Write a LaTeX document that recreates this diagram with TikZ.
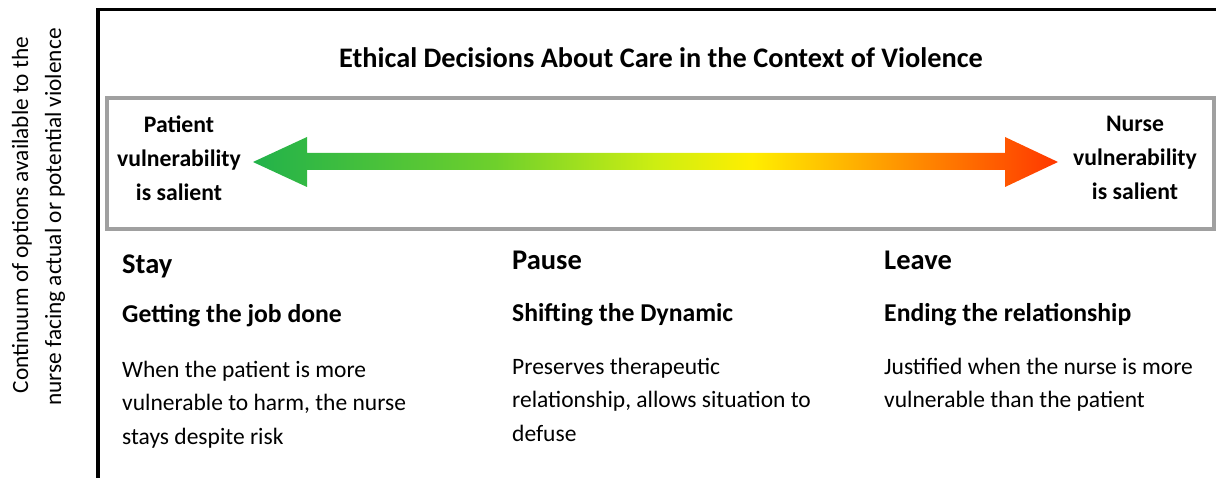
\documentclass[tikz,border=0pt]{standalone}
\usepackage{fontspec}
\setmainfont{Carlito}
\definecolor{framegray}{RGB}{160,160,160}
\definecolor{vgreen}{RGB}{34,178,74}
\definecolor{vlime}{RGB}{110,208,44}
\definecolor{vchart}{RGB}{205,238,18}
\definecolor{vyellow}{RGB}{255,238,0}
\definecolor{vorange}{RGB}{255,160,0}
\definecolor{vred}{RGB}{255,55,0}
\pgfdeclarehorizontalshading{vulnshade}{100bp}{%
  color(0bp)=(vgreen); color(25bp)=(vgreen); color(40bp)=(vlime);
  color(50bp)=(vchart); color(56bp)=(vyellow); color(64bp)=(vorange);
  color(75bp)=(vred); color(100bp)=(vred)}
\tikzset{
  sidelabel/.style={font=\fontsize{23.7}{34}\selectfont\bfseries, align=center, inner sep=0pt},
  title/.style={font=\fontsize{28.3}{33}\selectfont\bfseries, inner sep=0pt, anchor=base},
  colhead/.style={font=\fontsize{28.5}{33}\selectfont\bfseries, inner sep=0pt, anchor=base west},
  colsub/.style={font=\fontsize{25.7}{30}\selectfont\bfseries, inner sep=0pt, anchor=base west},
  % multi-line body: the base anchor sits on the last line
  colbody/.style={font=\fontsize{23.5}{33.5}\selectfont, align=left, inner sep=0pt, anchor=base west},
  sidetext/.style={font=\fontsize{23.3}{33}\selectfont, inner sep=0pt, rotate=90, anchor=center},
}
\begin{document}
\begin{tikzpicture}[x=1pt, y=-1pt]
\useasboundingbox (0,0) rectangle (1216,478);

% outer frame: top and left rules
\draw[line width=3.5pt] (1216,9.5) -- (98,9.5) -- (98,478);

% title
\node[title] (title) at (661,68) {Ethical Decisions About Care in the Context of Violence};

% grey band with the continuum arrow
\draw[framegray, line width=4pt] (107,98) rectangle (1213.5,229);
\path[shading=vulnshade]
  (253,162) -- (307,137) -- (307,153) -- (1005,153) -- (1005,137)
  -- (1058,162) -- (1005,187) -- (1005,170) -- (307,170) -- (307,187) -- cycle;

\node[sidelabel] (patient) at (179,158) {Patient\\vulnerability\\is salient};
\node[sidelabel] (nurse) at (1135,158) {Nurse\\vulnerability\\is salient};

% vertical axis caption
\node[sidetext] (axis1) at (22,215) {Continuum of options available to the};
\node[sidetext] (axis2) at (55,217) {nurse facing actual or potential violence};

% column: stay
\node[colhead] (stay) at (122,274) {Stay};
\node[colsub] (staysub) at (122,323) {Getting the job done};
\node[colbody] (staybody) at (122,444) {When the patient is more\\vulnerable to harm, the nurse\\stays despite risk};

% column: pause
\node[colhead] (pause) at (512,270) {Pause};
\node[colsub] (pausesub) at (512,322) {Shifting the Dynamic};
\node[colbody] (pausebody) at (512,441) {Preserves therapeutic\\relationship, allows situation to\\defuse};

% column: leave
\node[colhead] (leave) at (884,270) {Leave};
\node[colsub] (leavesub) at (884,322) {Ending the relationship};
\node[colbody] (leavebody) at (884,407.5) {Justified when the nurse is more\\vulnerable than the patient};
\end{tikzpicture}
\end{document}
